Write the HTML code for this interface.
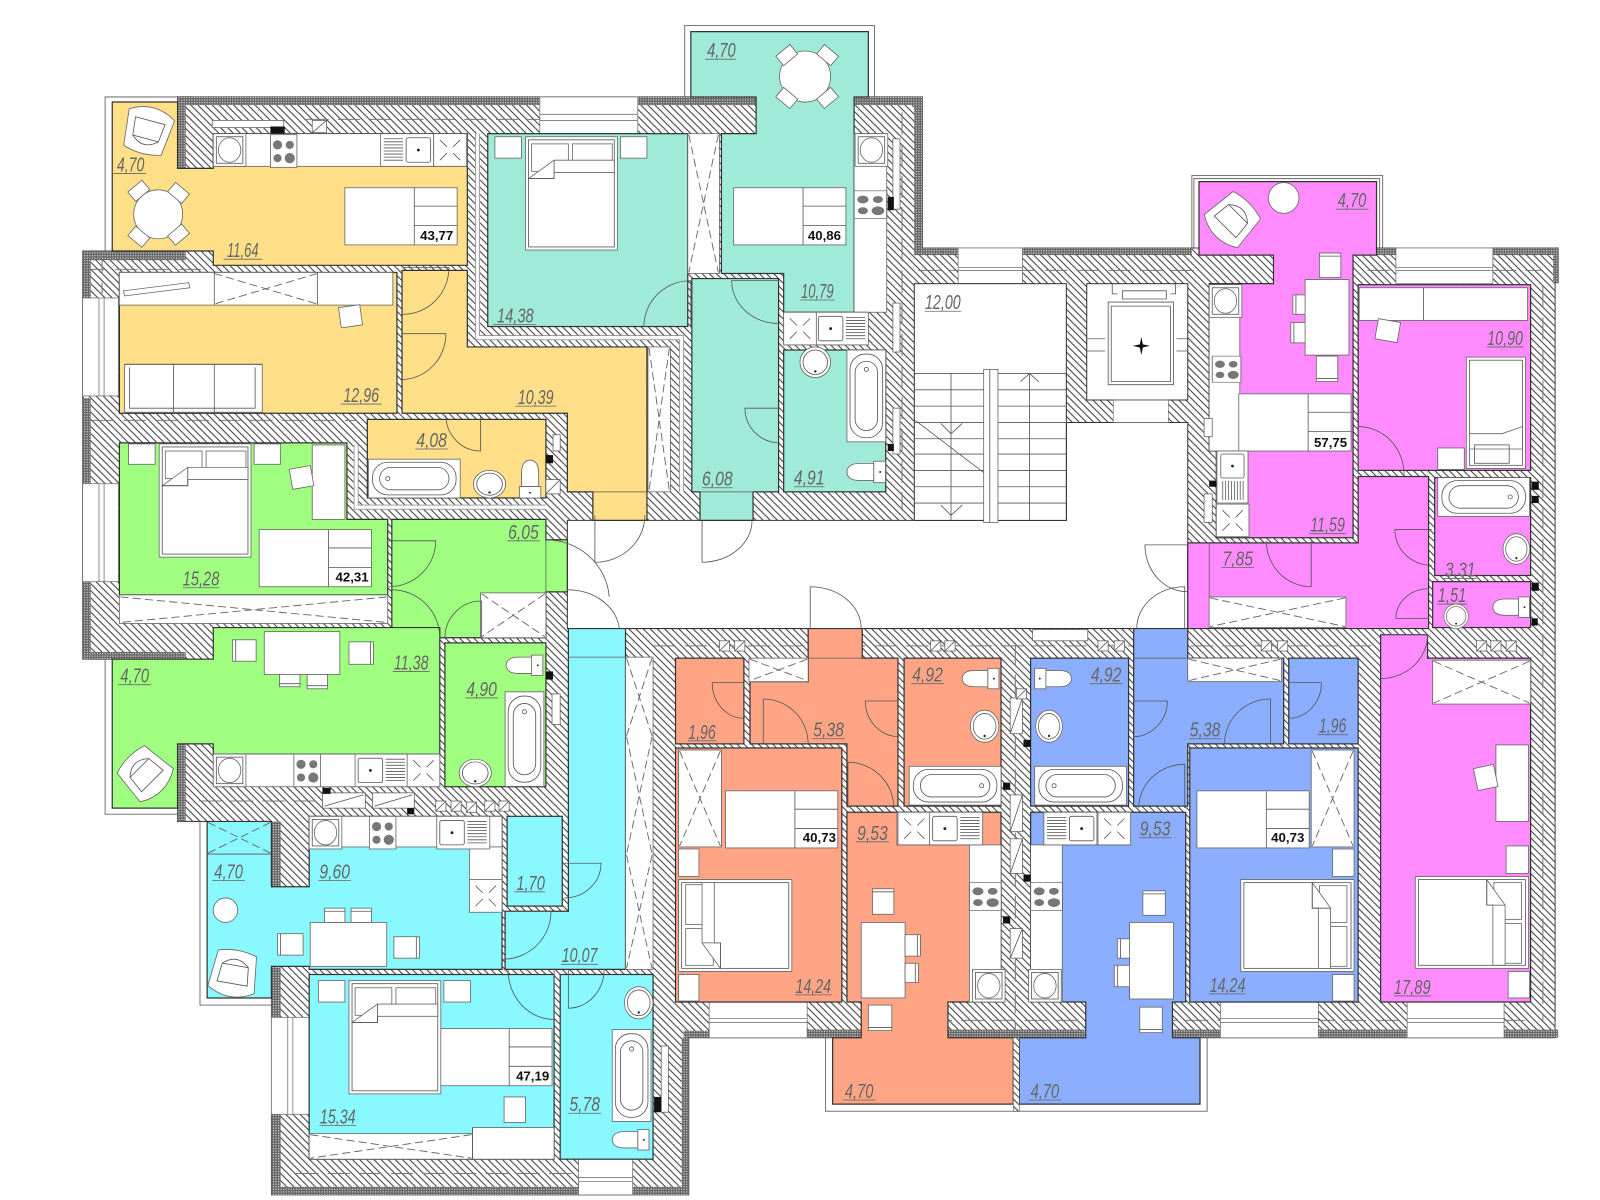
<!DOCTYPE html>
<html><head><meta charset="utf-8"><style>
html,body{margin:0;padding:0;background:#fff}
svg{display:block}
.w{fill:#fff;stroke:#666;stroke-width:.8}
.n{fill:none;stroke:#555;stroke-width:.8}
.d{fill:none;stroke:#666;stroke-width:.9;stroke-dasharray:8 4}
.r{stroke:#333;stroke-width:1.2}
.l{font-family:"Liberation Sans",sans-serif;font-style:italic;font-size:20px;fill:#666;text-anchor:middle}
.t{font-family:"Liberation Sans",sans-serif;font-weight:bold;font-size:13px;fill:#111;text-anchor:middle}
</style></head><body>
<svg width="1600" height="1200" viewBox="0 0 1568 1176" xmlns="http://www.w3.org/2000/svg">
<defs>
<pattern id="h" patternUnits="userSpaceOnUse" width="7" height="7"><rect width="7" height="7" fill="#fff"/><path d="M-1 -1L8 8M-1 6L1 8M6 -1L8 1" stroke="#333" stroke-width=".95"/></pattern>
<pattern id="c" patternUnits="userSpaceOnUse" width="2.5" height="2.5"><rect width="2.5" height="2.5" fill="#666"/><rect width="1.1" height="1.1" fill="#ddd"/></pattern>
<g id="bed"><rect class="w" width="90" height="111"/><rect class="n" x="3" y="3" width="84" height="105"/><rect class="w" x="6" y="7" width="36" height="27"/><rect class="w" x="46" y="7" width="39" height="17"/><path class="w" d="M3 41L28 23H87V35H28V41Z"/><path class="n" d="M3 41H28V23"/></g>
<g id="wm"><rect class="w" width="32" height="32"/><rect class="n" x="3" y="3" width="26" height="26"/><ellipse class="w" cx="16" cy="16" rx="11" ry="12"/></g>
<g id="st"><rect class="w" width="26" height="32"/><circle cx="7" cy="10" r="4.5" fill="#777"/><circle cx="19" cy="10" r="4" fill="#777"/><circle cx="7" cy="23" r="4" fill="#777"/><circle cx="19" cy="23" r="5" fill="#777"/></g>
<g id="si"><rect class="w" width="52" height="32"/><rect class="n" x="3" y="4" width="24" height="24" rx="2"/><circle cx="15" cy="16" r="1.4" fill="#222"/><path class="n" d="M30 5H49M30 8H49M30 11H49M30 14H49M30 17H49M30 20H49M30 23H49M30 26H49"/></g>
<g id="xb"><rect class="w" width="32" height="32"/><path class="n" d="M6 6L13 13M19 19L26 26M26 6L19 13M13 19L6 26"/></g>
<g id="ba"><rect class="w" width="90" height="38"/><rect class="n" x="4" y="3" width="82" height="32" rx="15"/><rect class="n" x="11" y="8" width="68" height="22" rx="11"/><circle class="n" cx="19" cy="19" r="2"/></g>
<g id="to"><rect class="w" x="25" width="11" height="20"/><path class="w" d="M25 2H12C3 2 0 6 0 10S3 18 12 18H25Z"/><circle cx="31" cy="10" r=".9" fill="#222"/></g>
<g id="bs"><ellipse class="w" cx="15" cy="15" rx="15" ry="15"/><ellipse class="n" cx="15" cy="15" rx="12" ry="12"/><circle cx="15" cy="24" r="1.2" fill="#222"/></g>
<g id="ar"><path class="w" d="M0 8Q23 -6 46 8L42 44Q23 50 4 44Z"/><path class="n" d="M8 14H38L36 32H10Z"/><path class="n" d="M10 32Q23 44 36 32"/></g>
<g id="de"><rect class="w" width="110" height="56"/><path class="n" d="M68 0V56M68 18H110M68 37H110"/></g>
<g id="du"><rect class="w" width="10" height="10"/><path class="n" d="M0 10L10 0"/></g>
</defs>
<rect width="1568" height="1176" fill="#fff"/>

<!-- railings -->
<g fill="none" stroke="#777" stroke-width="1">
<path d="M188 95H103V246"/><path d="M103 646V798H175"/><path d="M671 95V25H857V95"/><path d="M1168 250V172H1355V250"/><path d="M1170 248V175H1352V248"/>
<path d="M203 805H196V985H266"/><path d="M809 1017V1089H1183V1017"/>
</g>

<!-- footprint hatch -->
<path fill="url(#h)" stroke="#444" d="M174 95H904V243H1527V277H1524V1017H675V1171H266V978H203V805H174V729H209V646H81V246H209V165H174Z"/>

<!-- double-skin walls -->
<path fill="none" stroke="#fff" stroke-width="5" d="M468 131V331H668V482M349 436V497H535M1113 414M510 340"/>
<path fill="none" stroke="#666" stroke-width=".6" d="M466 131V333H666V482M470 131V329H670V482M347 436V499H535M351 436V495H535"/>

<!-- axis dashes in walls -->
<path fill="none" stroke="#777" stroke-width="1" stroke-dasharray="22 9" d="M300 117H529M82 264H205M90 412H350M900 265H1175M1340 265H1512M195 785H310M640 633H1395M290 1150H560M995 630V1089M1512 280V1000M884 110V500M100 246V290M1100 1000H1500M700 1000H790M880 1000H1060"/>

<!-- checker -->
<g fill="url(#c)">
<rect x="174" y="95" width="355" height="8"/><rect x="625" y="95" width="116" height="8"/><rect x="837" y="95" width="67" height="8"/><rect x="896" y="95" width="8" height="155"/>
<rect x="896" y="243" width="43" height="7"/><rect x="1002" y="243" width="166" height="7"/><rect x="1349" y="243" width="19" height="7"/><rect x="1463" y="243" width="64" height="7"/><rect x="1522" y="248" width="5" height="29"/>
<rect x="791" y="1009" width="53" height="8"/><rect x="929" y="1009" width="134" height="8"/><rect x="1149" y="1009" width="47" height="8"/><rect x="1292" y="1009" width="87" height="8"/><rect x="1474" y="1009" width="53" height="8"/>
<rect x="81" y="246" width="101" height="9"/><rect x="81" y="246" width="8" height="46"/><rect x="81" y="390" width="8" height="84"/><rect x="81" y="570" width="8" height="76"/><rect x="81" y="639" width="101" height="7"/>
<rect x="174" y="100" width="8" height="65"/><rect x="174" y="729" width="8" height="76"/><rect x="266" y="805" width="9" height="64"/><rect x="266" y="948" width="9" height="49"/><rect x="266" y="1092" width="9" height="79"/>
<rect x="266" y="1163" width="301" height="8"/><rect x="620" y="1163" width="55" height="8"/><rect x="668" y="1017" width="7" height="154"/><rect x="670" y="1010" width="25" height="7"/>
</g>

<!-- windows -->
<g fill="#fff" stroke="#777" stroke-width=".8">
<rect x="529" y="95" width="96" height="36"/><rect x="939" y="243" width="63" height="35"/><rect x="1368" y="243" width="95" height="35"/>
<rect x="81" y="292" width="35" height="96"/><rect x="81" y="474" width="35" height="96"/><rect x="266" y="997" width="37" height="95"/><rect x="567" y="1136" width="53" height="35"/>
<rect x="695" y="982" width="96" height="35"/><rect x="1196" y="982" width="96" height="35"/><rect x="1379" y="982" width="95" height="35"/>
</g>
<path fill="none" stroke="#777" stroke-width=".8" d="M529 112H625M529 118H625M939 262H1002M939 265H1002M1368 262H1463M1368 265H1463M97 292V388M102 292V388M97 474V570M102 474V570M282 997V1092M287 997V1092M567 1154H620M567 1158H620M695 998H791M695 1002H791M1196 998H1292M1196 1002H1292M1379 998H1474M1379 1002H1474"/>

<!-- corridor and stair -->
<path fill="#fff" stroke="#333" d="M556 510H1045V414H1164V616H556Z"/>
<rect x="896" y="278" width="149" height="232" fill="#fff" stroke="#333"/>
<rect x="1065" y="278" width="99" height="114" fill="#fff" stroke="#333"/><rect x="1091" y="392" width="54" height="22" fill="#fff" stroke="#666" stroke-width=".6"/>

<!-- rooms -->
<g class="r">
<g fill="#FFDF88">
<path d="M110 100H174V165H209V131H458V260H209V246H110Z"/>
<rect x="117" y="267" width="272" height="138"/>
<path d="M394 265H458V340H634V510H581V482H556V405H394Z"/>
<rect x="360" y="411" width="175" height="77"/>
</g>
<g fill="#A0EBD8">
<rect x="478" y="131" width="196" height="189"/>
<path d="M677 31H851V95H837V306H768V268H707V131H741V95H677Z"/>
<path d="M678 273H763V482H738V510H686V482H678Z"/>
<rect x="768" y="343" width="100" height="139"/>
</g>
<g fill="#A0FF80">
<path d="M117 434H340V509H380V583H117Z"/>
<path d="M384 509H535V529H556V580H535V625H384Z"/>
<path d="M110 646H209V615H431V739H209V729H174V792H110Z"/>
<rect x="436" y="630" width="99" height="141"/>
</g>
<g fill="#8AF8FF">
<path d="M557 616H613V950H495V893H557Z"/>
<rect x="497" y="800" width="54" height="88"/>
<path d="M203 805H266V869H303V800H492V950H303V947H266V978H203Z"/>
<rect x="303" y="955" width="240" height="181"/>
<rect x="549" y="955" width="91" height="181"/>
</g>
<g fill="#FFA585">
<rect x="662" y="645" width="67" height="84"/>
<path d="M792 616H845V645H880V790H830V729H735V668H792Z"/>
<rect x="886" y="645" width="95" height="145"/>
<path d="M830 796H981V982H929V1017H993V1082H816V1017H844V982H830Z"/>
<rect x="662" y="733" width="163" height="249"/>
</g>
<g fill="#8BAEFF">
<rect x="1010" y="645" width="96" height="145"/>
<path d="M1111 616H1164V645H1258V729H1164V790H1111Z"/>
<rect x="1263" y="645" width="68" height="84"/>
<path d="M1010 796H1162V982H1149V1017H1176V1082H999V1017H1064V982H1010Z"/>
<rect x="1166" y="733" width="165" height="249"/>
</g>
<g fill="#FF8BFF">
<path d="M1175 178H1349V250H1326V527H1192V442H1185V278H1248V250H1175Z"/>
<rect x="1331" y="279" width="169" height="182"/>
<path d="M1331 467H1400V616H1164V532H1331Z"/>
<rect x="1406" y="468" width="94" height="96"/>
<rect x="1404" y="570" width="96" height="45"/>
<path d="M1353 622H1399V645H1500V982H1353Z"/>
</g>
</g>
<rect x="993" y="1017" width="6" height="72" fill="url(#h)" stroke="#555" stroke-width=".6"/>
<path fill="none" stroke="#555" stroke-width=".7" d="M557 644H613M792 645H845M1111 645H1164M581 482H634M686 482H738M535 529V580M1185 532V585"/>

<!-- white built-ins -->
<g class="w">
<rect x="209" y="131" width="249" height="32"/>
<rect x="117" y="267" width="268" height="32"/><rect x="122" y="357" width="135" height="47"/>
<rect x="635" y="340" width="22" height="142"/><rect x="674" y="131" width="31" height="137"/>
<rect x="837" y="131" width="32" height="175"/><rect x="768" y="306" width="82" height="32"/>
<rect x="117" y="583" width="263" height="28"/><rect x="471" y="581" width="64" height="44"/>
<rect x="209" y="739" width="222" height="32"/><rect x="303" y="800" width="189" height="30"/><rect x="460" y="830" width="32" height="63"/>
<rect x="613" y="644" width="27" height="306"/><rect x="303" y="1111" width="240" height="25"/><rect x="463" y="1105" width="80" height="31"/>
<rect x="734" y="645" width="58" height="23"/><rect x="665" y="735" width="42" height="95"/><rect x="665" y="832" width="20" height="27"/><rect x="665" y="955" width="20" height="26"/>
<rect x="879" y="796" width="84" height="32"/><rect x="950" y="828" width="31" height="154"/>
<rect x="1164" y="645" width="92" height="23"/><rect x="1023" y="796" width="85" height="32"/><rect x="1010" y="828" width="31" height="154"/>
<rect x="1285" y="735" width="42" height="95"/><rect x="1306" y="832" width="21" height="27"/><rect x="1306" y="955" width="21" height="26"/>
<rect x="1185" y="279" width="30" height="163"/><rect x="1192" y="442" width="31" height="84"/>
<rect x="1332" y="282" width="165" height="32"/><rect x="1409" y="439" width="26" height="21"/>
<rect x="1185" y="585" width="134" height="30"/>
<rect x="1404" y="647" width="96" height="43"/><rect x="1466" y="730" width="32" height="75"/><rect x="1476" y="829" width="22" height="27"/><rect x="1478" y="952" width="21" height="26"/>
<rect x="485" y="134" width="26" height="21"/><rect x="608" y="134" width="26" height="21"/>
<rect x="126" y="435" width="26" height="20"/><rect x="249" y="435" width="26" height="20"/><rect x="306" y="436" width="32" height="73"/>
<rect x="312" y="961" width="26" height="21"/><rect x="435" y="961" width="26" height="21"/>
<!-- ducts -->
<rect x="990" y="684" width="12" height="35"/><rect x="990" y="779" width="12" height="36"/><rect x="990" y="822" width="12" height="34"/><rect x="990" y="910" width="12" height="29"/>
<rect x="316" y="777" width="42" height="15"/><rect x="365" y="777" width="41" height="15"/>
<rect x="875" y="136" width="7" height="69"/><rect x="875" y="297" width="7" height="48"/><rect x="875" y="400" width="7" height="45"/>
<rect x="1180" y="410" width="8" height="18"/><rect x="1180" y="484" width="8" height="28"/>
<rect x="208" y="118" width="70" height="7"/><rect x="306" y="118" width="14" height="12"/>
<rect x="542" y="426" width="7" height="16"/><rect x="535" y="470" width="14" height="14"/>
<rect x="541" y="680" width="8" height="30"/>
<rect x="648" y="1025" width="7" height="65"/>
</g>
<path class="n" d="M1395 282V314M210 267V299M311 267V299M463 1105V1136M122 357H257M170 357V404M210 357V404M127 360V400H250V360M318 790L356 779M367 790L404 779M990 719L1002 684M990 815L1002 779M990 856L1002 822M990 939L1002 910M535 484L549 470M306 130L320 118"/>
<g>
<use href="#du" x="427" y="785"/><use href="#du" x="442" y="785"/><use href="#du" x="457" y="786"/><use href="#du" x="475" y="785"/><use href="#du" x="489" y="785"/>
<use href="#du" x="705" y="628"/><use href="#du" x="720" y="628"/><use href="#du" x="912" y="628"/><use href="#du" x="926" y="628"/><use href="#du" x="1076" y="628"/><use href="#du" x="1092" y="628"/><use href="#du" x="1236" y="628"/><use href="#du" x="1252" y="628"/><use href="#du" x="1447" y="628"/><use href="#du" x="1461" y="628"/><use href="#du" x="1476" y="628"/><use href="#du" x="996" y="675"/>
</g>
<rect class="w" x="1012" y="617" width="54" height="11"/>

<!-- dashed X -->
<path class="d" d="M210 268L311 298M311 268L210 298M118 585L379 610M379 585L118 610M675 132L704 267M704 132L675 267M636 341L656 481M656 341L636 481M304 1112L462 1135M462 1112L304 1135M472 582L534 624M534 582L472 624M204 806L265 836M265 806L204 836M614 645L639 721M639 645L614 721M614 722L639 837M639 722L614 837M614 838L639 949M639 838L614 949M666 736L706 829M706 736L666 829M735 646L791 667M791 646L735 667M1165 646L1255 667M1255 646L1165 667M1286 736L1326 829M1326 736L1286 829M1186 586L1318 614M1318 586L1186 614M1405 648L1499 689M1499 648L1405 689"/>
<path class="n" d="M203 837H266"/>
<path class="w" d="M121 285L185 277 186 282 122 290Z"/>

<!-- desks -->
<use href="#de" x="338" y="184"/><use href="#de" x="719" y="184"/><use href="#de" x="254" y="519"/><use href="#de" x="431" y="1008"/><use href="#de" x="711" y="775"/><use href="#de" x="1173" y="775"/><use href="#de" x="1214" y="386"/>
<text class="t" x="428" y="235">43,77</text>
<text class="t" x="808" y="235">40,86</text>
<text class="t" x="345" y="570">42,31</text>
<text class="t" x="522" y="1059">47,19</text>
<text class="t" x="803" y="825">40,73</text>
<text class="t" x="1262" y="825">40,73</text>
<text class="t" x="1304" y="438">57,75</text>

<!-- beds -->
<use href="#bed" x="515" y="134"/><use href="#bed" x="156" y="435"/><use href="#bed" x="342" y="961"/>
<use href="#bed" transform="translate(665 952) rotate(-90)"/>
<use href="#bed" transform="translate(1327 862) rotate(90)"/>
<use href="#bed" transform="translate(1498 859) rotate(90)"/>
<rect class="w" x="1437" y="350" width="58" height="109"/><rect class="n" x="1440" y="353" width="52" height="103"/><path class="w" d="M1440 425H1472L1492 418V440H1440Z"/><rect class="n" x="1445" y="436" width="34" height="18"/>

<!-- kitchen items -->
<use href="#wm" x="209" y="131"/><use href="#st" x="265" y="132"/><use href="#si" transform="translate(425 131) scale(-1 1)"/><use href="#xb" x="425" y="131"/>
<use href="#wm" x="838" y="131"/><use href="#st" transform="translate(837 187) scale(1.23 .85)"/><use href="#si" x="799" y="306"/><use href="#xb" x="768" y="306"/>
<use href="#wm" x="209" y="739"/><use href="#st" x="288" y="739"/><use href="#si" x="348" y="739"/><use href="#xb" x="399" y="739"/>
<use href="#wm" x="303" y="800"/><use href="#st" x="362" y="800"/><use href="#si" x="428" y="800"/><use href="#xb" x="460" y="862"/>
<use href="#xb" x="880" y="796"/><use href="#si" x="911" y="796"/><use href="#st" transform="translate(950 865) scale(1.2 .85)"/><use href="#wm" x="953" y="950"/>
<use href="#si" transform="translate(1075 796) scale(-1 1)"/><use href="#xb" x="1076" y="796"/><use href="#st" transform="translate(1010 865) scale(1.2 .85)"/><use href="#wm" x="1008" y="950"/>
<use href="#wm" x="1185" y="279"/><use href="#st" transform="translate(1188 349) scale(1.08 .8)"/><use href="#si" transform="translate(1223 442) rotate(90) scale(.98 .95)"/><use href="#xb" x="1192" y="494"/>

<!-- baths -->
<use href="#ba" x="361" y="450"/><use href="#bs" transform="translate(464 461) scale(1.05 .9)"/><use href="#to" transform="translate(530 451) rotate(90) scale(1.03 1.05)"/>
<use href="#ba" transform="translate(868 343) rotate(90)"/><use href="#bs" x="784" y="340"/><use href="#to" transform="translate(830 452) scale(1.05 1.05)"/>
<use href="#to" x="496" y="642"/><use href="#ba" transform="translate(533 678) rotate(90) scale(1.03 1)"/><use href="#bs" transform="translate(450 744) scale(1.05 .9)"/>
<use href="#bs" transform="translate(612 967) scale(.93 1.05)"/><use href="#ba" transform="translate(638 1009) rotate(90)"/><use href="#to" x="600" y="1107"/>
<use href="#to" x="943" y="655"/><use href="#bs" transform="translate(951 696) scale(.93 1.05)"/><use href="#ba" transform="translate(981 789) rotate(180)"/>
<use href="#to" transform="translate(1050 655) scale(-1 1)"/><use href="#bs" transform="translate(1015 696) scale(.87 1.05)"/><use href="#ba" x="1014" y="751"/>
<use href="#ba" transform="translate(1499 506) rotate(180)"/><use href="#bs" transform="translate(1473 523) scale(.87 1)"/><use href="#to" x="1463" y="585"/><use href="#bs" transform="translate(1415 592) scale(.8 .8)"/>

<!-- dining -->
<g class="w">
<rect x="259" y="619" width="74" height="42"/><rect x="304" y="904" width="75" height="43"/><rect x="844" y="904" width="43" height="74"/><rect x="1107" y="904" width="43" height="75"/><rect x="1279" y="274" width="43" height="74"/>
<circle cx="221" cy="892" r="12"/><circle cx="1258" cy="194" r="15"/>
<rect x="228" y="627" width="23" height="21"/><rect x="342" y="629" width="24" height="22"/><rect x="274" y="661" width="20" height="12"/><rect x="301" y="661" width="20" height="14"/>
<rect x="318" y="890" width="20" height="14"/><rect x="344" y="890" width="20" height="14"/><rect x="272" y="915" width="25" height="21"/><rect x="386" y="918" width="25" height="21"/>
<rect x="855" y="871" width="21" height="25"/><rect x="887" y="916" width="15" height="21"/><rect x="887" y="944" width="13" height="19"/><rect x="851" y="985" width="23" height="25"/>
<rect x="1120" y="873" width="22" height="24"/><rect x="1095" y="920" width="12" height="19"/><rect x="1092" y="946" width="15" height="21"/><rect x="1117" y="987" width="22" height="25"/>
<rect x="1293" y="248" width="21" height="24"/><rect x="1267" y="289" width="12" height="19"/><rect x="1265" y="316" width="14" height="20"/><rect x="1290" y="349" width="21" height="25"/>
<rect x="1349" y="314" width="22" height="20" transform="rotate(10 1360 324)"/><rect x="333" y="300" width="21" height="20" transform="rotate(-8 343 310)"/><rect x="285" y="458" width="21" height="20" transform="rotate(-10 295 468)"/><rect x="494" y="1075" width="21" height="25"/><rect x="1446" y="751" width="20" height="22" transform="rotate(-12 1456 762)"/>
<ellipse cx="155" cy="210" rx="24" ry="24"/><circle cx="789" cy="75" r="25"/>
<rect x="127" y="181" width="18" height="12" transform="rotate(-40 136 187)"/><rect x="166" y="183" width="18" height="12" transform="rotate(40 175 189)"/><rect x="127" y="226" width="18" height="12" transform="rotate(40 136 232)"/><rect x="166" y="224" width="18" height="12" transform="rotate(-40 175 230)"/>
<rect x="762" y="48" width="18" height="12" transform="rotate(-40 771 54)"/><rect x="802" y="48" width="18" height="12" transform="rotate(40 811 54)"/><rect x="762" y="90" width="18" height="12" transform="rotate(40 771 96)"/><rect x="802" y="90" width="18" height="12" transform="rotate(-40 811 96)"/>
</g>
<path class="n" d="M231 627V648M363 629V651M274 670H294M301 672H321M318 893H338M344 893H364M275 915V936M408 918V939M855 874H876M899 916V937M897 944V963M851 1007H874M1120 876H1142M1098 920V939M1095 946V967M1117 1009H1139M1293 251H1314M1270 289V308M1268 316V336M1290 371H1311"/>
<use href="#ar" transform="translate(122 104) rotate(15 23 23)"/>
<use href="#ar" transform="translate(120 736) rotate(135 23 23)"/>
<use href="#ar" transform="translate(206 932) rotate(190 23 23)"/>
<use href="#ar" transform="translate(1184 193) rotate(225 23 23)"/>

<!-- stairs -->
<path class="n" d="M896 366H1045M896 382H1045M896 398H1045M896 414H1045M896 430H1045M896 445H1045M896 461H1045M896 477H1045M896 493H1045M932 366V510M1009 366V510M897 412L973 470M932 425L922 415M932 425L943 415M932 505L922 495M932 505L943 495M1009 366L1000 374M1009 366L1018 374"/>
<rect class="w" x="964" y="362" width="14" height="150"/><path class="n" d="M970 362V512"/>

<!-- lift -->
<path class="n" d="M1086 296H1150V377H1086ZM1089 300H1147V374H1089ZM1065 332H1083M1065 344H1083M1153 332H1164M1153 344H1164M1100 285H1143V293H1100ZM1090 278V288H1095M1152 278V288H1147M1091 392H1145"/>
<path d="M1118.500 330L1120 337.500 1127 339 1120 340.500 1118.500 348 1117 340.500 1110 339 1117 337.500Z" fill="#111"/>

<!-- black shafts -->
<g fill="#111">
<rect x="265" y="124" width="14" height="7"/><rect x="870" y="193" width="6" height="13"/><rect x="870" y="435" width="6" height="7"/><rect x="535" y="446" width="7" height="8"/><rect x="535" y="658" width="7" height="8"/><rect x="316" y="772" width="8" height="6"/><rect x="399" y="792" width="7" height="6"/><rect x="641" y="1075" width="7" height="15"/>
<rect x="1003" y="725" width="7" height="7"/><rect x="983" y="767" width="7" height="7"/><rect x="1003" y="857" width="7" height="7"/><rect x="983" y="898" width="7" height="7"/><rect x="1185" y="471" width="7" height="6"/><rect x="1501" y="472" width="7" height="8"/><rect x="1501" y="486" width="7" height="7"/><rect x="1501" y="571" width="7" height="8"/><rect x="1501" y="606" width="6" height="7"/>
</g>

<!-- doors -->
<path fill="none" stroke="#555" stroke-width=".8" d="M395 262H440A45 46 0 0 1 395 308M393 327H437A44 45 0 0 1 393 372M471 407V442A34 35 0 0 1 437 407M677 320V275A46 45 0 0 0 631 320M763 275H717A46 42 0 0 0 763 317M764 400H730A34 34 0 0 0 764 434M688 510V551A49 41 0 0 0 737 510M583 505V551A49 46 0 0 0 632 505M381 530H427A46 45 0 0 1 381 575M384 578A47 47 0 0 1 431 625M472 625V589A36 36 0 0 0 436 625M535 529A62 60 0 0 1 597 585M556 578A51 42 0 0 1 607 616M493 893H540A47 47 0 0 1 493 940M553 846H589A36 34 0 0 1 553 880M543 951V999A45 48 0 0 1 498 951M557 950V988A35 38 0 0 0 592 950M729 669H698A31 35 0 0 0 729 704M748 729V685A44 44 0 0 1 792 729M881 687H848A33 35 0 0 0 881 722M831 792V747A45 45 0 0 1 876 792M794 616V575A50 41 0 0 1 844 616M1161 616V575A47 41 0 0 0 1114 616M1110 687H1144A34 35 0 0 1 1110 722M1245 729V685A45 44 0 0 0 1200 729M1161 792V749A45 43 0 0 0 1116 792M1263 669H1295A32 35 0 0 1 1263 704M1331 465V418A45 47 0 0 1 1376 465M1403 519H1367A36 35 0 0 0 1403 554M1285 530V575A44 45 0 0 1 1241 530M1164 534H1122A42 46 0 0 0 1164 580M1400 606H1368A32 29 0 0 1 1400 577M1353 622H1399A46 43 0 0 1 1353 665"/>

<!-- labels -->
<g transform="translate(0 -1)">
<text class="l" x="128" y="169" textLength="27" lengthAdjust="spacingAndGlyphs">4,70</text>
<text class="l" x="238" y="253" textLength="31" lengthAdjust="spacingAndGlyphs">11,64</text>
<text class="l" x="354" y="395" textLength="35" lengthAdjust="spacingAndGlyphs">12,96</text>
<text class="l" x="525" y="397" textLength="35" lengthAdjust="spacingAndGlyphs">10,39</text>
<text class="l" x="423" y="439" textLength="30" lengthAdjust="spacingAndGlyphs">4,08</text>
<text class="l" x="505" y="317" textLength="36" lengthAdjust="spacingAndGlyphs">14,38</text>
<text class="l" x="703" y="477" textLength="30" lengthAdjust="spacingAndGlyphs">6,08</text>
<text class="l" x="793" y="476" textLength="30" lengthAdjust="spacingAndGlyphs">4,91</text>
<text class="l" x="801" y="293" textLength="32" lengthAdjust="spacingAndGlyphs">10,79</text>
<text class="l" x="707" y="57" textLength="28" lengthAdjust="spacingAndGlyphs">4,70</text>
<text class="l" x="924" y="304" textLength="35" lengthAdjust="spacingAndGlyphs">12,00</text>
<text class="l" x="1325" y="204" textLength="28" lengthAdjust="spacingAndGlyphs">4,70</text>
<text class="l" x="1475" y="339" textLength="35" lengthAdjust="spacingAndGlyphs">10,90</text>
<text class="l" x="1301" y="522" textLength="34" lengthAdjust="spacingAndGlyphs">11,59</text>
<text class="l" x="1213" y="555" textLength="30" lengthAdjust="spacingAndGlyphs">7,85</text>
<text class="l" x="1431" y="566" textLength="30" lengthAdjust="spacingAndGlyphs">3,31</text>
<text class="l" x="1423" y="591" textLength="28" lengthAdjust="spacingAndGlyphs">1,51</text>
<text class="l" x="513" y="529" textLength="30" lengthAdjust="spacingAndGlyphs">6,05</text>
<text class="l" x="197" y="575" textLength="36" lengthAdjust="spacingAndGlyphs">15,28</text>
<text class="l" x="403" y="657" textLength="34" lengthAdjust="spacingAndGlyphs">11,38</text>
<text class="l" x="132" y="670" textLength="28" lengthAdjust="spacingAndGlyphs">4,70</text>
<text class="l" x="472" y="683" textLength="30" lengthAdjust="spacingAndGlyphs">4,90</text>
<text class="l" x="328" y="862" textLength="30" lengthAdjust="spacingAndGlyphs">9,60</text>
<text class="l" x="224" y="862" textLength="28" lengthAdjust="spacingAndGlyphs">4,70</text>
<text class="l" x="520" y="873" textLength="28" lengthAdjust="spacingAndGlyphs">1,70</text>
<text class="l" x="568" y="944" textLength="35" lengthAdjust="spacingAndGlyphs">10,07</text>
<text class="l" x="331" y="1102" textLength="35" lengthAdjust="spacingAndGlyphs">15,34</text>
<text class="l" x="573" y="1090" textLength="30" lengthAdjust="spacingAndGlyphs">5,78</text>
<text class="l" x="688" y="725" textLength="27" lengthAdjust="spacingAndGlyphs">1,96</text>
<text class="l" x="812" y="723" textLength="30" lengthAdjust="spacingAndGlyphs">5,38</text>
<text class="l" x="855" y="824" textLength="30" lengthAdjust="spacingAndGlyphs">9,53</text>
<text class="l" x="797" y="974" textLength="35" lengthAdjust="spacingAndGlyphs">14,24</text>
<text class="l" x="909" y="669" textLength="30" lengthAdjust="spacingAndGlyphs">4,92</text>
<text class="l" x="1084" y="669" textLength="30" lengthAdjust="spacingAndGlyphs">4,92</text>
<text class="l" x="1132" y="820" textLength="30" lengthAdjust="spacingAndGlyphs">9,53</text>
<text class="l" x="1181" y="723" textLength="30" lengthAdjust="spacingAndGlyphs">5,38</text>
<text class="l" x="1306" y="719" textLength="27" lengthAdjust="spacingAndGlyphs">1,96</text>
<text class="l" x="1203" y="973" textLength="35" lengthAdjust="spacingAndGlyphs">14,24</text>
<text class="l" x="1384" y="975" textLength="36" lengthAdjust="spacingAndGlyphs">17,89</text>
<text class="l" x="842" y="1077" textLength="28" lengthAdjust="spacingAndGlyphs">4,70</text>
<text class="l" x="1024" y="1077" textLength="28" lengthAdjust="spacingAndGlyphs">4,70</text>
<path fill="none" stroke="#666" stroke-width=".8" d="M111 171h32M219 255h38M334 397h40M505 399h40M407 441h32M483 319h42M688 479h30M778 478h30M784 295h34M691 59h30M906 306h36M1309 206h32M1457 341h36M1283 524h36M1197 557h32M1415 568h32M1408 593h30M497 531h32M179 577h36M385 659h36M116 672h32M456 685h32M312 864h32M208 864h32M504 875h30M550 946h36M313 1104h36M557 1092h32M674 727h28M796 725h32M839 826h32M779 976h36M893 671h32M1068 671h32M1116 822h32M1165 725h32M1291 721h30M1185 975h36M1366 977h36M826 1079h32M1008 1079h32"/>
</g>
</svg>
</body></html>
